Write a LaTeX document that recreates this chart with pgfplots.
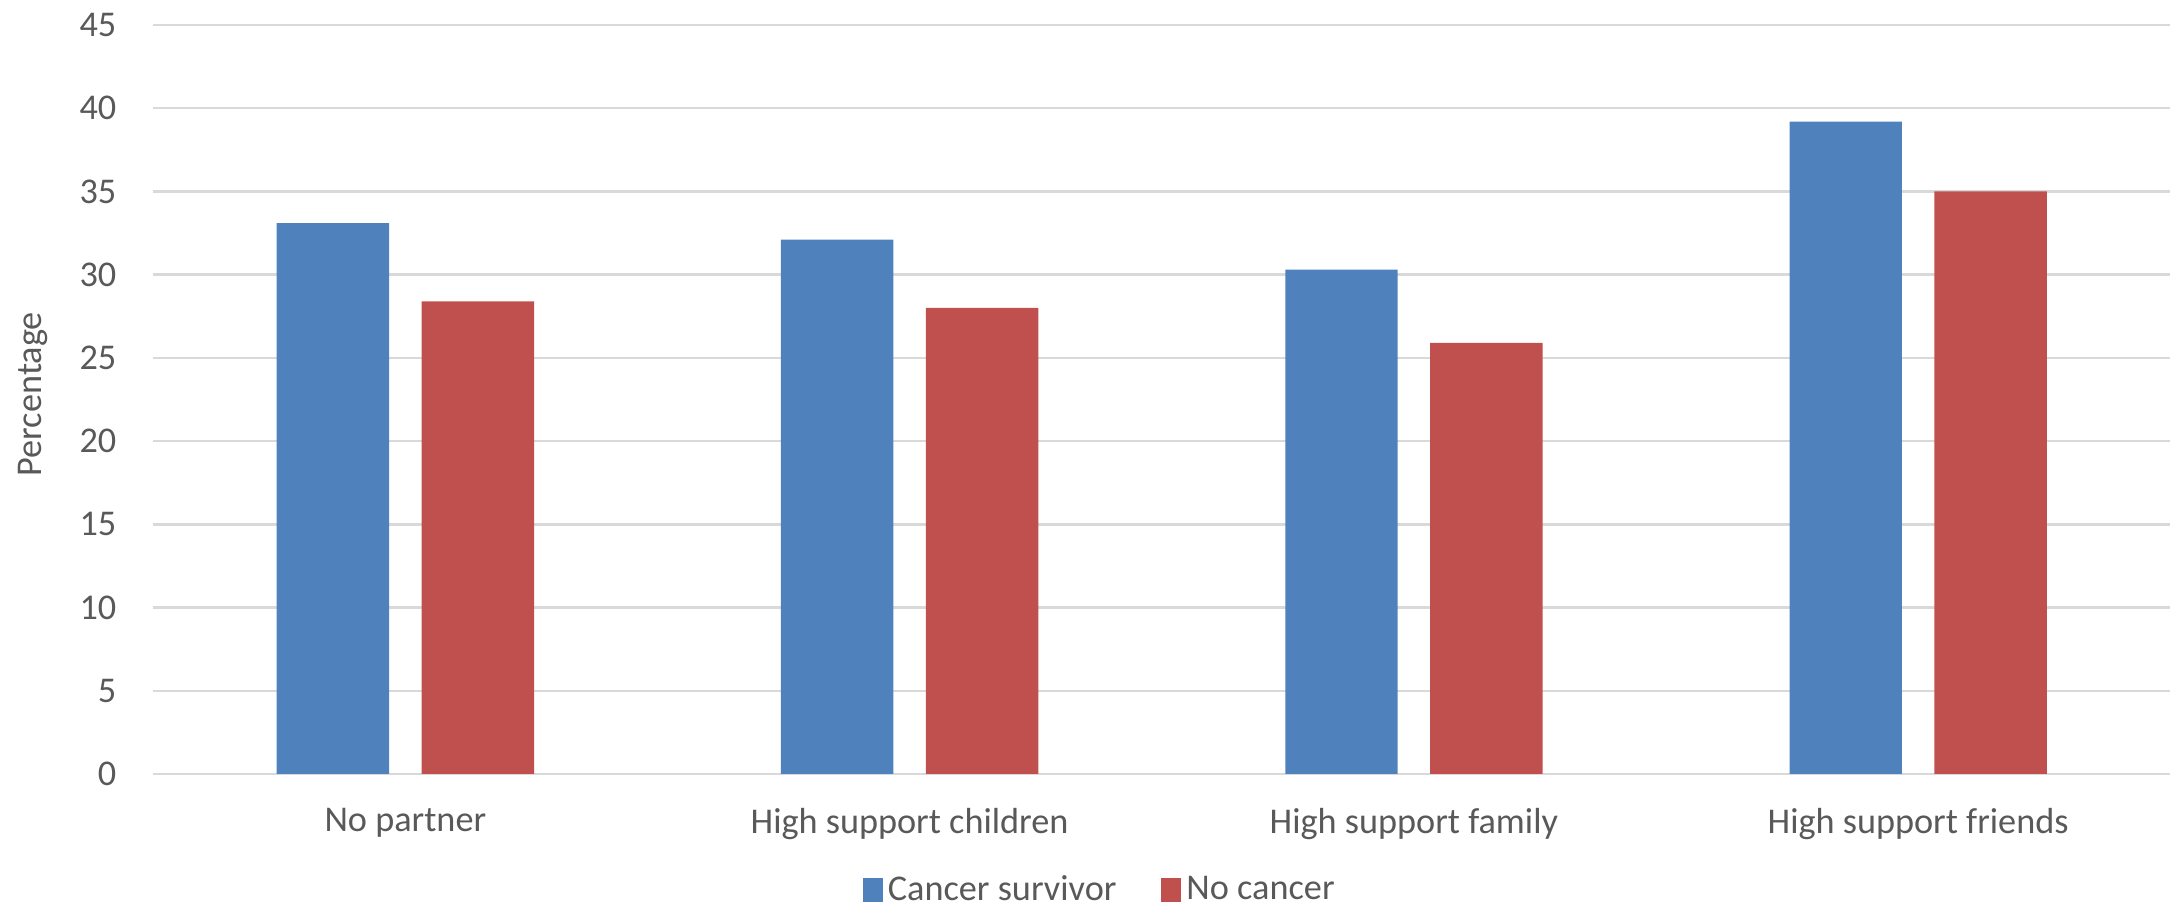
\documentclass[border=0pt]{standalone}
\usepackage{pgfplots}
\pgfplotsset{compat=1.18}
\usepackage{fontspec}
\setmainfont{Carlito}
\definecolor{csblue}{HTML}{4F81BD}
\definecolor{ncred}{HTML}{C0504D}
\definecolor{gridgray}{HTML}{D9D9D9}
\definecolor{textgray}{HTML}{595959}
\newcommand{\chartfont}{\fontsize{14.5}{17}\selectfont}
\begin{document}
\begin{tikzpicture}
\useasboundingbox (0,0) rectangle (870pt,362.8pt);
\begin{axis}[
  at={(61.3pt,53.2pt)}, anchor=south west,
  scale only axis, width=806.8pt, height=299.6pt,
  xmin=-0.5, xmax=3.5, ymin=0, ymax=45,
  enlargelimits=false,
  ybar, bar width=0.223,
  xtick={0,1,2,3},
  xticklabels={No partner, High support children, High support family, High support friends},
  ytick={0,5,...,45},
  /pgf/number format/assume math mode=true,
  axis line style={draw=none},
  major tick length=0pt,
  ymajorgrids,
  grid style={gridgray, line width=1pt},
  tick label style={font=\chartfont, text=textgray},
  yticklabel style={inner sep=0pt, anchor=east, xshift=-14.6pt},
  xticklabel style={inner sep=0pt, anchor=north, yshift=-13.6pt},
  ylabel={Percentage},
  ylabel style={at={(axis description cs:-0.0594,0.507)}, anchor=center, inner sep=0pt, font=\chartfont, text=textgray},
  legend columns=2,
  legend cell align=left,
  legend style={at={(axis description cs:0.47,-0.155)}, anchor=center, draw=none, font=\chartfont, text=textgray,
    /tikz/every even column/.append style={column sep=16pt}},
  legend image code/.code={\fill[#1,draw=none] (0pt,-4.8pt) rectangle (8pt,4.8pt);},
]
\addplot[fill=csblue, draw=none, bar shift=-0.1436] coordinates {(0,33.1) (1,32.1) (2,30.3) (3,39.2)};
\addlegendentry{Cancer survivor}
\addplot[fill=ncred, draw=none, bar shift=0.1436] coordinates {(0,28.4) (1,28.0) (2,25.9) (3,35.0)};
\addlegendentry{No cancer}
\end{axis}
\end{tikzpicture}
\end{document}
